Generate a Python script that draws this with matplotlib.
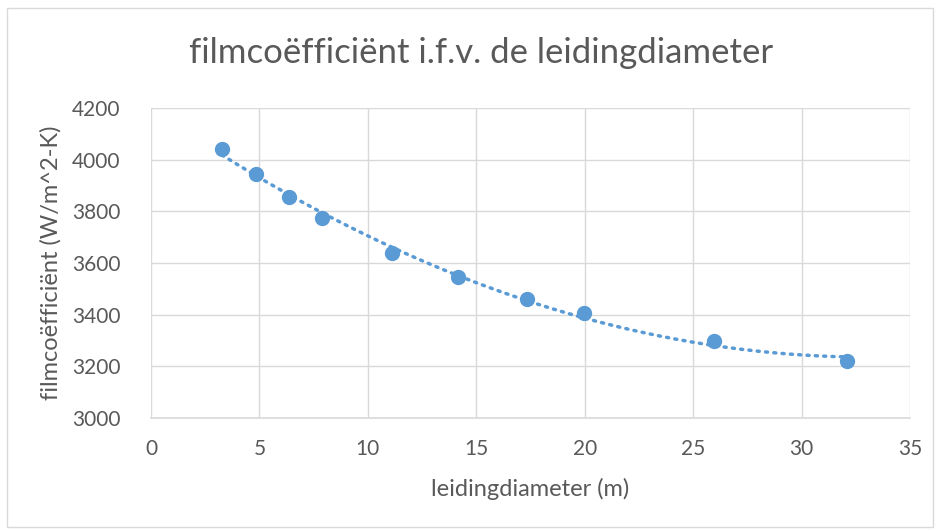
import numpy as np
import matplotlib.pyplot as plt
from matplotlib.patches import Rectangle

# leidingdiameter (m) en filmcoëfficiënt (W/m^2-K)
diameter = [3.27, 4.84, 6.36, 7.88, 11.11, 14.15, 17.34, 19.96, 25.96, 32.09]
film_coef = [4042, 3945, 3856, 3774, 3639, 3545, 3461, 3406, 3298, 3221]

x_ticks = [0, 5, 10, 15, 20, 25, 30, 35]
y_ticks = [3000, 3200, 3400, 3600, 3800, 4000, 4200]

blue = "#5b9bd5"
grid_col = "#d9d9d9"
text_col = "#595959"

plt.rcParams["font.family"] = ["Lato", "DejaVu Sans"]

fig = plt.figure(figsize=(9.39, 5.31), dpi=100)
fig.patches.append(Rectangle((7 / 939, 4 / 531), 926 / 939, 519 / 531, transform=fig.transFigure,
                             fill=False, edgecolor=grid_col, linewidth=1))
ax = fig.add_axes([151 / 939, 1 - 418 / 531, 759 / 939, 310 / 531])

# polynomial trendline (order 2), like Excel
coef = np.polyfit(diameter, film_coef, 2)
xs = np.linspace(min(diameter), max(diameter), 200)
ax.plot(xs, np.polyval(coef, xs), color=blue, linewidth=2.5, linestyle=(0, (0.6, 1.8)),
        dash_capstyle="round", zorder=2)
ax.plot(diameter, film_coef, "o", color=blue, markersize=10, zorder=3)

ax.set_xlim(0, 35)
ax.set_ylim(3000, 4200)
ax.set_xticks(x_ticks)
ax.set_yticks(y_ticks)
ax.grid(True, color=grid_col, linewidth=1)
ax.set_axisbelow(True)
for s in ["top", "right", "left"]:
    ax.spines[s].set_visible(False)
ax.spines["bottom"].set_color(grid_col)
ax.spines["bottom"].set_linewidth(1.2)
ax.tick_params(length=0, labelsize=15, colors=text_col)
ax.tick_params(axis="x", pad=15)
ax.tick_params(axis="y", pad=22)

ax.set_xlabel("leidingdiameter (m)", fontsize=17, color=text_col)
ax.set_ylabel("filmcoëfficiënt (W/m^2-K)", fontsize=17, color=text_col)
ax.xaxis.set_label_coords(0.5, (418 - 478) / 310)
ax.yaxis.set_label_coords((62 - 151) / 759, 0.5)
fig.text(481 / 939, 1 - 53 / 531, "filmcoëfficiënt i.f.v. de leidingdiameter", ha="center", va="center",
         fontsize=25, color=text_col)

fig.savefig("out.png", dpi=100)
